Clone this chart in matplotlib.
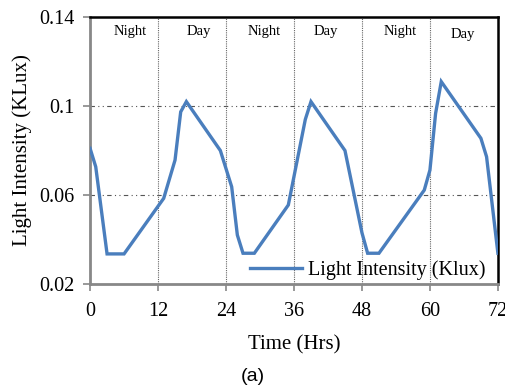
import matplotlib
matplotlib.use("Agg")
import matplotlib.pyplot as plt

# Data
time_hrs = [0, 1, 3, 6, 13, 15, 16, 17, 23, 25, 26, 27, 29, 35, 38, 39, 45, 48, 49, 51,
            59, 60, 61, 62, 69, 70, 72]
light = [0.081, 0.0727, 0.0335, 0.0335, 0.0585, 0.0757, 0.0974, 0.102, 0.080, 0.0637,
         0.042, 0.0338, 0.0338, 0.0555, 0.094, 0.102, 0.080, 0.043, 0.0338, 0.0338,
         0.0622, 0.0712, 0.0967, 0.111, 0.0855, 0.0772, 0.0338]

x_ticks = [0, 12, 24, 36, 48, 60, 72]
y_ticks = [0.02, 0.06, 0.1, 0.14]
y_tick_labels = ["0.02", "0.06", "0.1", "0.14"]
period_labels = ["Night", "Day", "Night", "Day", "Night", "Day"]
period_x = [7.1, 19.2, 30.7, 41.6, 54.7, 65.8]
period_y = [0.1335, 0.1335, 0.1335, 0.1335, 0.1335, 0.1322]
divider_x = [12, 24, 36, 48, 60]
grid_y = [0.06, 0.1]

serif = "Liberation Serif"
blue = "#4A7EBD"

fig = plt.figure(figsize=(5.06, 3.90), dpi=100)
ax = fig.add_axes([0.178, 0.272, 0.806, 0.684])

for gy in grid_y:
    ax.axhline(gy, color="#555555", lw=0.8, ls=(0, (4, 3, 1, 3, 1, 3)), zorder=1)
for dx in divider_x:
    ax.axvline(dx, color="#666666", lw=0.8, ls=(0, (1, 1)), zorder=1)

ax.plot(time_hrs, light, color=blue, lw=2.4, label="Light Intensity (Klux)", zorder=3,
        solid_joinstyle="miter")

for lbl, px, py in zip(period_labels, period_x, period_y):
    ax.text(px, py, lbl, ha="center", va="center", fontsize=10.5, family=serif)

ax.set_xlim(0, 72)
ax.set_ylim(0.02, 0.14)
ax.set_xticks(x_ticks)
ax.set_yticks(y_ticks)
ax.set_yticklabels(y_tick_labels)
ax.tick_params(axis="both", direction="out", length=5, width=1.2, color="#888888",
               labelsize=14.5)
ax.tick_params(axis="x", pad=8)
ax.tick_params(axis="y", pad=6)
for lab in ax.get_xticklabels() + ax.get_yticklabels():
    lab.set_family(serif)

ax.spines["left"].set_color("#888888")
ax.spines["bottom"].set_color("#888888")
ax.spines["left"].set_linewidth(2)
ax.spines["bottom"].set_linewidth(2)
ax.spines["top"].set_color("black")
ax.spines["right"].set_color("black")
ax.spines["top"].set_linewidth(1.8)
ax.spines["right"].set_linewidth(1.8)

ax.set_xlabel("Time (Hrs)", fontsize=15, family=serif, labelpad=10)
ax.set_ylabel("Light Intensity (KLux)", fontsize=15, family=serif, labelpad=5)

leg = ax.legend(loc="lower right", frameon=False, prop={"family": serif, "size": 14.5},
                handlelength=2.6, handletextpad=0.3, borderaxespad=0.0,
                bbox_to_anchor=(0.99, -0.015))

fig.text(0.5, 0.035, "(a)", ha="center", va="center", fontsize=14,
         family="Liberation Sans")

fig.savefig("out.png", dpi=100)
